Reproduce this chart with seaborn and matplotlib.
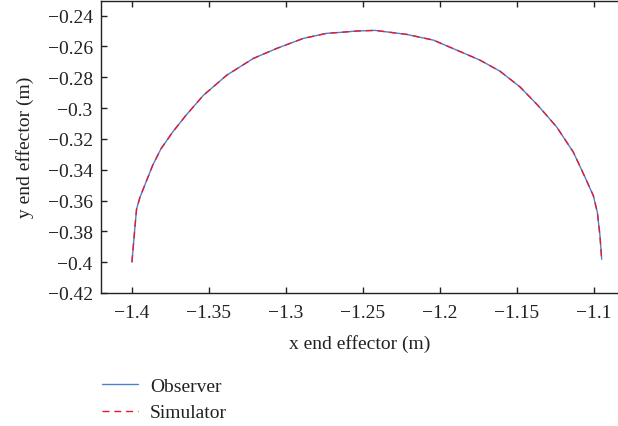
import matplotlib
matplotlib.use("Agg")
import matplotlib.pyplot as plt
import seaborn as sns
import pandas as pd

# Data
x_observer = [-1.4, -1.398, -1.397, -1.3948, -1.3909, -1.3866, -1.3812, -1.3736, -1.365,
              -1.3536, -1.3385, -1.3212, -1.306, -1.2887, -1.2736, -1.2649, -1.2541, -1.2422,
              -1.2216, -1.2043, -1.1891, -1.174, -1.161, -1.148, -1.1361, -1.1242, -1.1134,
              -1.1058, -1.1004, -1.0978, -1.0961, -1.095]
y_observer = [-0.4, -0.3764, -0.3655, -0.3579, -0.3481, -0.3373, -0.3265, -0.3156, -0.3048,
              -0.2917, -0.2787, -0.2678, -0.2613, -0.2548, -0.2515, -0.2509, -0.25, -0.2496,
              -0.2522, -0.2559, -0.2624, -0.2689, -0.2761, -0.2863, -0.2986, -0.3123, -0.3286,
              -0.3449, -0.3569, -0.3677, -0.3829, -0.3981]
x_simulator = list(x_observer)
y_simulator = list(y_observer)
x_ticks = [-1.4, -1.35, -1.3, -1.25, -1.2, -1.15, -1.1]
x_tick_labels = ["\u22121.4", "\u22121.35", "\u22121.3", "\u22121.25", "\u22121.2", "\u22121.15", "\u22121.1"]
y_ticks = [-0.24, -0.26, -0.28, -0.3, -0.32, -0.34, -0.36, -0.38, -0.4, -0.42]
y_tick_labels = ["\u22120.24", "\u22120.26", "\u22120.28", "\u22120.3", "\u22120.32", "\u22120.34",
                 "\u22120.36", "\u22120.38", "\u22120.4", "\u22120.42"]

sns.set_theme(style="white")
plt.rcParams['font.family'] = ['Liberation Serif', 'DejaVu Serif']
plt.rcParams['axes.unicode_minus'] = True

FS = 14
fig = plt.figure(figsize=(6.18, 4.27), dpi=100)
ax = fig.add_axes([101 / 618, 1 - 294 / 427, 1 - 101 / 618, (294 - 1.5) / 427])

df_obs = pd.DataFrame({"x": x_observer, "y": y_observer})
df_sim = pd.DataFrame({"x": x_simulator, "y": y_simulator})

sns.lineplot(data=df_obs, x="x", y="y", ax=ax, sort=False, estimator=None,
             color="#4a82d4", linewidth=1.0, label="Observer")
sns.lineplot(data=df_sim, x="x", y="y", ax=ax, sort=False, estimator=None,
             color="#e8192c", linewidth=1.0, dashes=False, label="Simulator")
ax.lines[1].set_dashes([5, 3.5])

ax.set_xlim(-1.4201, -1.0844)
ax.set_ylim(-0.42, -0.2302)
ax.set_xticks(x_ticks)
ax.set_xticklabels(x_tick_labels)
ax.set_yticks(y_ticks)
ax.set_yticklabels(y_tick_labels)

for side in ["left", "bottom", "top"]:
    ax.spines[side].set_visible(True)
    ax.spines[side].set_color("#222222")
    ax.spines[side].set_linewidth(1.0)
ax.spines["right"].set_visible(False)

ax.tick_params(axis="x", which="both", direction="in", top=True, bottom=True,
               length=4, width=1, color="#222222", labelsize=FS, pad=8, labelcolor="#222222")
ax.tick_params(axis="y", which="both", direction="in", left=True, right=False,
               length=4, width=1, color="#222222", labelsize=FS, pad=6, labelcolor="#222222")

ax.set_xlabel("x end effector (m)", fontsize=FS, color="#222222", labelpad=9)
ax.set_ylabel("y end effector (m)", fontsize=FS, color="#222222", labelpad=10)

leg = ax.legend(loc="upper left", bbox_to_anchor=(-0.0135, -0.262), frameon=False,
                fontsize=FS, handlelength=1.85, handletextpad=0.62, labelspacing=0.45,
                borderaxespad=0)
for t in leg.get_texts():
    t.set_color("#222222")

fig.savefig("out.png", dpi=100)
